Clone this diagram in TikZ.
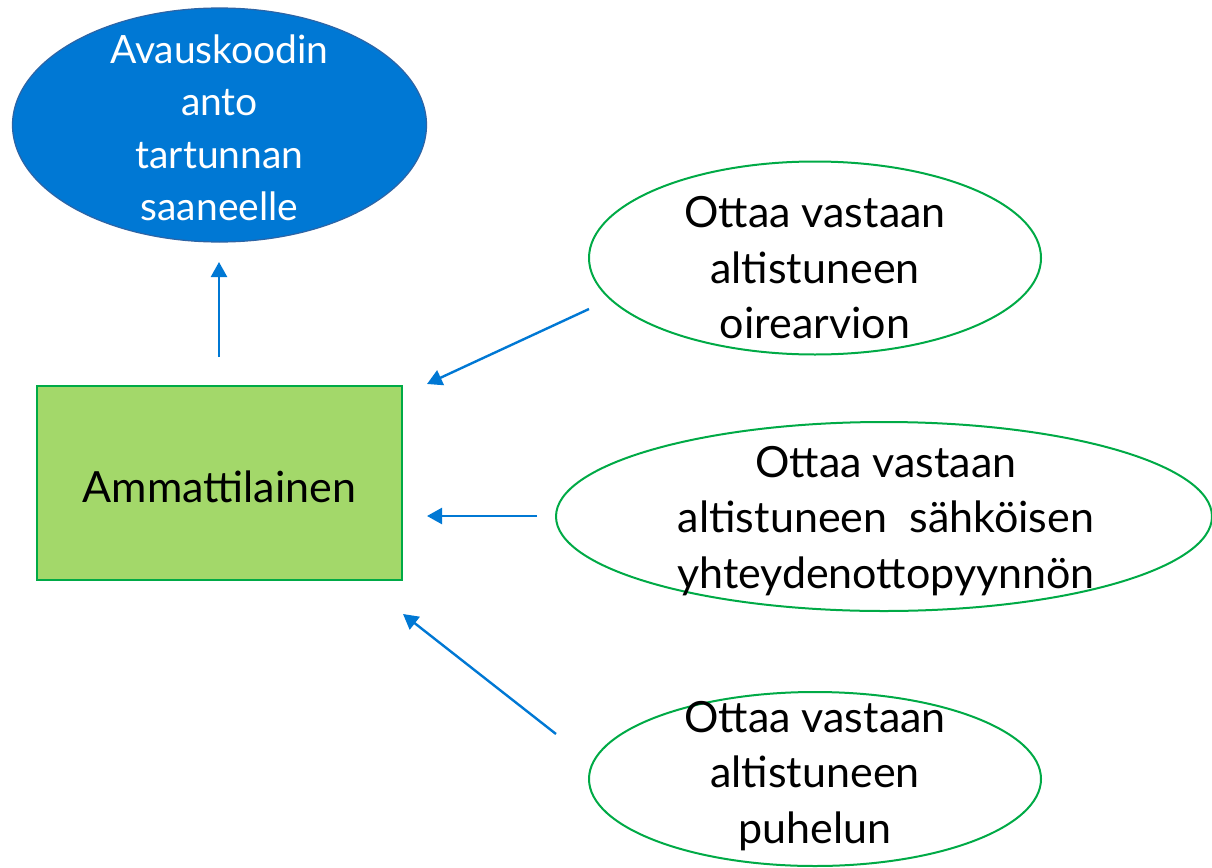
\documentclass[tikz,border=0pt]{standalone}
\usepackage{fontspec}
\setmainfont{Lato}
\usetikzlibrary{shapes.geometric,arrows.meta}
\definecolor{bluefill}{RGB}{0,120,212}
\definecolor{blueedge}{RGB}{45,100,165}
\definecolor{gedge}{RGB}{0,170,70}
\definecolor{rectfill}{RGB}{163,216,106}
\definecolor{arrowblue}{RGB}{0,120,212}
\tikzset{
  ell/.style={ellipse, draw=gedge, line width=2pt, inner sep=0pt},
  txt/.style={align=center, font=\fontsize{43}{55.5}\selectfont, inner sep=0pt},
  conn/.style={draw=arrowblue, line width=2.4pt, -{Triangle[length=15pt,width=16pt]}},
}
\begin{document}
\begin{tikzpicture}[x=1pt,y=-1pt]
\useasboundingbox (0,0) rectangle (1212,867);
% blue ellipse
\node[ellipse, fill=bluefill, draw=blueedge, line width=1.2pt, minimum width=414pt, minimum height=234pt, inner sep=0pt] (code) at (219.5,125) {};
\node[txt, text=white, font=\fontsize{39}{52.5}\selectfont] (codet) at (219.5,128) {Avauskoodin\\anto\\tartunnan\\saaneelle};
% rectangle
\node[draw=gedge, fill=rectfill, line width=2pt, minimum width=365pt, minimum height=194pt, inner sep=0pt] (amm) at (219.5,483) {};
\node[txt, font=\fontsize{43}{50}\selectfont] (ammt) at (219.5,487) {Ammattilainen};
% ellipses
\node[ell, minimum width=452pt, minimum height=193pt] (e1) at (815,258) {};
\node[txt] (e1t) at (815,268) {Ottaa vastaan\\altistuneen\\oirearvion};
\node[ell, minimum width=656pt, minimum height=189pt] (e2) at (884,516.5) {};
\node[txt] (e2t) at (886,521) {Ottaa vastaan\\altistuneen\ \ sähköisen\\yhteydenottopyynnön};
\node[ell, minimum width=452pt, minimum height=174pt] (e3) at (815,779) {};
\node[txt] (e3t) at (815,776) {Ottaa vastaan\\altistuneen\\puhelun};
% connector endpoints
\coordinate (a0s) at (219,357);
\coordinate (a0e) at (219,262);
\coordinate (a1s) at (589,309);
\coordinate (a1e) at (427,384);
\coordinate (a2s) at (537,516);
\coordinate (a2e) at (427,516);
\coordinate (a3s) at (556,734);
\coordinate (a3e) at (403,614);
\draw[conn] (a0s) -- (a0e);
\draw[conn] (a1s) -- (a1e);
\draw[conn] (a2s) -- (a2e);
\draw[conn] (a3s) -- (a3e);
\end{tikzpicture}
\end{document}
